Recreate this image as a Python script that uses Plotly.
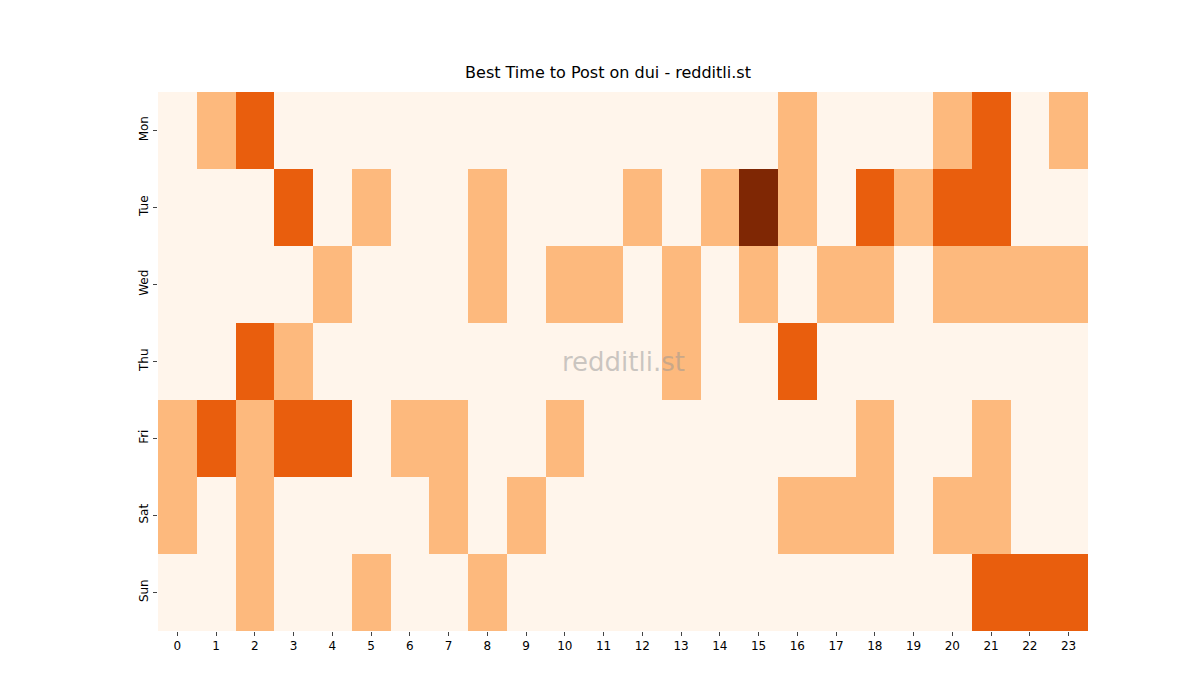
import plotly.graph_objects as go

hours = [str(h) for h in range(24)]
days = ["Mon", "Tue", "Wed", "Thu", "Fri", "Sat", "Sun"]

mon = [0,1,2,0,0,0,0,0,0,0,0,0,0,0,0,0,1,0,0,0,1,2,0,1]
tue = [0,0,0,2,0,1,0,0,1,0,0,0,1,0,1,3,1,0,2,1,2,2,0,0]
wed = [0,0,0,0,1,0,0,0,1,0,1,1,0,1,0,1,0,1,1,0,1,1,1,1]
thu = [0,0,2,1,0,0,0,0,0,0,0,0,0,1,0,0,2,0,0,0,0,0,0,0]
fri = [1,2,1,2,2,0,1,1,0,0,1,0,0,0,0,0,0,0,1,0,0,1,0,0]
sat = [1,0,1,0,0,0,0,1,0,1,0,0,0,0,0,0,1,1,1,0,1,1,0,0]
sun = [0,0,1,0,0,1,0,0,1,0,0,0,0,0,0,0,0,0,0,0,0,2,2,2]
z = [mon, tue, wed, thu, fri, sat, sun]

colorscale = [
    [0.0, "#fff5eb"], [0.25, "#fff5eb"],
    [0.25, "#fdb97d"], [0.5, "#fdb97d"],
    [0.5, "#e95e0d"], [0.75, "#e95e0d"],
    [0.75, "#7f2704"], [1.0, "#7f2704"],
]

fig = go.Figure(go.Heatmap(
    z=z, x=hours, y=days, zmin=-0.5, zmax=3.5,
    colorscale=colorscale, showscale=False, xgap=0, ygap=0,
))

fig.update_layout(
    width=1200, height=700,
    margin=dict(l=150, r=120, t=84, b=77),
    plot_bgcolor="white", paper_bgcolor="white",
    font=dict(family="DejaVu Sans", size=12, color="black"),
    title=dict(text="Best Time to Post on dui - redditli.st", x=0.5, xanchor="center",
               y=0.9, yanchor="bottom", font=dict(size=16)),
    annotations=[dict(text="redditli.st", x=0.5, y=0.5, xref="paper", yref="paper",
                      showarrow=False, font=dict(size=26, color="rgba(150,150,150,0.5)"))],
)
fig.update_xaxes(type="category", ticks="outside", ticklen=4, showgrid=False, zeroline=False)
fig.update_yaxes(type="category", autorange="reversed", ticks="outside", ticklen=4,
                 tickangle=-90, showgrid=False, zeroline=False)

fig.write_html("out.html")
